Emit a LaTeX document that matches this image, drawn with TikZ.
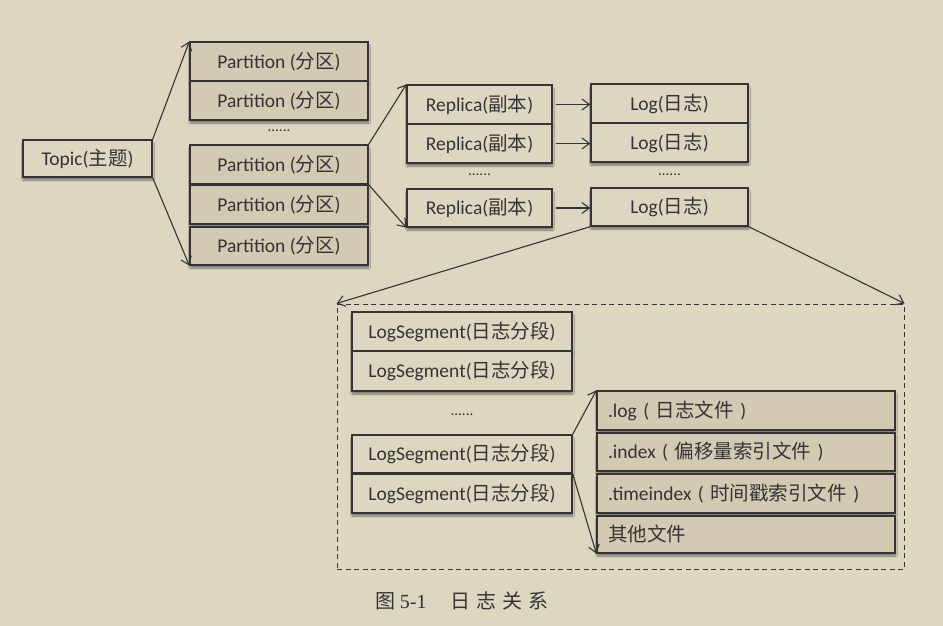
\documentclass[tikz,border=0pt]{standalone}
\usepackage{fontspec}
\setmainfont{Carlito}
\newfontfamily\cjk{Noto Sans CJK SC}
\newfontfamily\capserif{Liberation Serif}
\usetikzlibrary{arrows.meta,shadows.blur}
\definecolor{bg}{HTML}{DDD6C0}
\definecolor{darkfill}{HTML}{D2CAB2}
\definecolor{ink}{HTML}{343434}
\begin{document}
\begin{tikzpicture}[x=1pt,y=-1pt,
  box/.style={draw=ink, line width=1.3pt, text=ink, fill=bg,
    font=\fontsize{19.5}{21}\selectfont, inner sep=0pt,
    blur shadow={shadow xshift=0.5pt, shadow yshift=-3pt, shadow blur steps=6, shadow opacity=45}},
  dbox/.style={box, fill=darkfill},
  fbox/.style={dbox, minimum width=298pt, text width=276pt, inner xsep=11pt, align=left},
  dotsnode/.style={text=ink, font=\fontsize{15}{16}\selectfont, inner sep=0pt},
  arr/.style={draw=ink, line width=1.1pt, -{Straight Barb[length=7.5pt,width=11pt]}},
]
\fill[bg] (0,0) rectangle (943,626);
\useasboundingbox (0,0) rectangle (943,626);

% Topic
\node[box, minimum width=129pt, minimum height=37pt] (topic) at (87.5,158.5) {Topic({\cjk 主题})};

% Partitions
\node[dbox, minimum width=178pt, minimum height=39pt] (p1) at (279,61.5) {Partition ({\cjk 分区})};
\node[dbox, minimum width=178pt, minimum height=39pt] (p2) at (279,100.5) {Partition ({\cjk 分区})};
\node[dotsnode] (pd) at (279,131) {......};
\node[dbox, minimum width=178pt, minimum height=39pt] (p3) at (279,164.5) {Partition ({\cjk 分区})};
\node[dbox, minimum width=178pt, minimum height=39pt] (p4) at (279,204.5) {Partition ({\cjk 分区})};
\node[dbox, minimum width=178pt, minimum height=38pt] (p5) at (279,246) {Partition ({\cjk 分区})};

% Replicas
\node[box, minimum width=145pt, minimum height=39pt] (r1) at (479.5,104.5) {Replica({\cjk 副本})};
\node[box, minimum width=145pt, minimum height=39pt] (r2) at (479.5,143.5) {Replica({\cjk 副本})};
\node[dotsnode] (rd) at (479.5,175) {......};
\node[box, minimum width=145pt, minimum height=38pt] (r3) at (479.5,208) {Replica({\cjk 副本})};

% Logs
\node[box, minimum width=157pt, minimum height=39pt] (l1) at (669.5,103.5) {Log({\cjk 日志})};
\node[box, minimum width=157pt, minimum height=39pt] (l2) at (669.5,142.5) {Log({\cjk 日志})};
\node[dotsnode] (ld) at (669.5,175) {......};
\node[box, minimum width=157pt, minimum height=38pt] (l3) at (669.5,207) {Log({\cjk 日志})};

% Dashed group
\node[draw=ink, line width=1pt, dash pattern=on 5pt off 3.5pt, minimum width=567pt, minimum height=265pt, inner sep=0pt] (grp) at (620.5,436.5) {};

% LogSegments
\node[box, minimum width=220pt, minimum height=39pt] (s1) at (462,331.5) {LogSegment({\cjk 日志分段})};
\node[box, minimum width=220pt, minimum height=40pt] (s2) at (462,371) {LogSegment({\cjk 日志分段})};
\node[dotsnode] (sd) at (462,415) {......};
\node[box, minimum width=220pt, minimum height=38pt] (s3) at (462,454) {LogSegment({\cjk 日志分段})};
\node[box, minimum width=220pt, minimum height=39pt] (s4) at (462,493.5) {LogSegment({\cjk 日志分段})};

% Files
\node[fbox, minimum height=39pt] (f1) at (746,410.5) {.log ( {\cjk 日志文件} )};
\node[fbox, minimum height=38pt] (f2) at (746,452) {.index ( {\cjk 偏移量索引文件} )};
\node[fbox, minimum height=39pt] (f3) at (746,493.5) {.timeindex ( {\cjk 时间戳索引文件} )};
\node[fbox, minimum height=37pt] (f4) at (746,534.5) {{\cjk 其他文件}};

% Caption
\node[text=ink, font=\fontsize{20}{22}\selectfont, inner sep=0pt] (cap) at (462,601)
  {{\cjk 图} {\capserif 5-1}\hspace{24pt}{\cjk 日\hspace{6pt}志\hspace{6pt}关\hspace{6pt}系}};

% Connectors
\draw[arr] (topic.north east) -- (p1.north west);
\draw[arr] (topic.south east) -- (p5.south west);
\draw[arr] (p3.north east) -- (r1.north west);
\draw[arr] (p3.south east) -- (r3.south west);
\draw[arr] ([xshift=3pt]r1.east) -- (r1.east -| l1.west);
\draw[arr] ([xshift=3pt]r2.east) -- (r2.east -| l2.west);
\draw[arr] ([xshift=3pt]r3.east) -- (r3.east -| l3.west);
\draw[arr] (l3.south west) -- (grp.north west);
\draw[arr] (l3.south east) -- (grp.north east);
\draw[arr] (s3.north east) -- (f1.north west);
\draw[arr] (s3.south east) -- (f4.south west);
\end{tikzpicture}
\end{document}
